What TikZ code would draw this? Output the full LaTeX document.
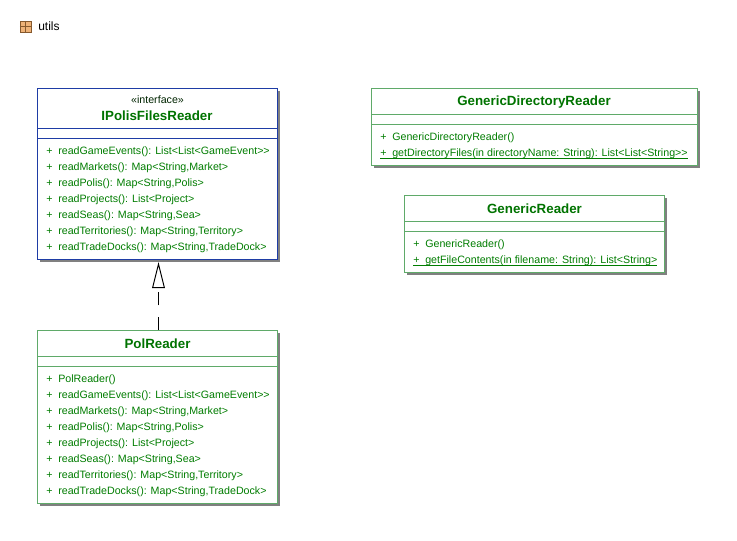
\documentclass[tikz,border=0pt]{standalone}
\usepackage{fontspec}
\setmainfont{Liberation Sans}[Ligatures=TeXOff]
\usetikzlibrary{arrows.meta,calc,shadows}
\definecolor{textgreen}{RGB}{0,125,0}
\definecolor{titlegreen}{RGB}{0,115,0}
\definecolor{classline}{RGB}{95,170,105}
\definecolor{ifaceline}{RGB}{30,60,165}
\newcommand{\pub}{\makebox[9pt][l]{+}}
\tikzset{
classbox/.style={draw=classline,fill=white,line width=0.75pt,inner sep=0pt,copy shadow={shadow xshift=1.6pt,shadow yshift=-1.6pt,draw=none,fill=black!50}},
ifacebox/.style={classbox,draw=ifaceline},
member/.style={anchor=base west,inner sep=0pt,text=textgreen,font=\fontsize{8}{10}\selectfont},
title/.style={inner sep=0pt,text=titlegreen,font=\fontsize{10}{12}\selectfont\bfseries}
}
\begin{document}
\begin{tikzpicture}[x=0.75pt,y=-0.75pt]
\useasboundingbox (0,0) rectangle (737,540);
% package label
\node (pkgicon) at (25.5,26.5) [draw=brown!70!black,fill=orange!55!brown!60,line width=0.5pt,minimum size=8pt,inner sep=0pt] {};
\draw[brown!70!black,line width=0.5pt] (pkgicon.north) -- (pkgicon.south);
\draw[brown!70!black,line width=0.5pt] (pkgicon.west) -- (pkgicon.east);
\node (pkg) at (38,26) [anchor=west,inner sep=0pt,font=\fontsize{9}{11}\selectfont] {utils};
% boxes
\node (IPolis) at (157.5,174) [ifacebox,minimum width=180pt,minimum height=128.25pt] {};
\node (PolReader) at (157.5,417) [classbox,minimum width=180pt,minimum height=129.75pt] {};
\node (GenDir) at (534.5,127) [classbox,minimum width=244.5pt,minimum height=57.75pt] {};
\node (GenRead) at (534.5,234) [classbox,minimum width=195pt,minimum height=57.75pt] {};
% compartments
\draw[ifaceline,line width=0.75pt] ($(IPolis.north west)+(0,40.5)$) -- ($(IPolis.north east)+(0,40.5)$);
\draw[ifaceline,line width=0.75pt] ($(IPolis.north west)+(0,50.5)$) -- ($(IPolis.north east)+(0,50.5)$);
\draw[classline,line width=0.75pt] ($(PolReader.north west)+(0,26.5)$) -- ($(PolReader.north east)+(0,26.5)$);
\draw[classline,line width=0.75pt] ($(PolReader.north west)+(0,36.5)$) -- ($(PolReader.north east)+(0,36.5)$);
\draw[classline,line width=0.75pt] ($(GenDir.north west)+(0,26.5)$) -- ($(GenDir.north east)+(0,26.5)$);
\draw[classline,line width=0.75pt] ($(GenDir.north west)+(0,36.5)$) -- ($(GenDir.north east)+(0,36.5)$);
\draw[classline,line width=0.75pt] ($(GenRead.north west)+(0,26.5)$) -- ($(GenRead.north east)+(0,26.5)$);
\draw[classline,line width=0.75pt] ($(GenRead.north west)+(0,36.5)$) -- ($(GenRead.north east)+(0,36.5)$);
% titles
\node (stereo) at (157.5,100) [inner sep=0pt,text=black!70!textgreen,font=\fontsize{8}{10}\selectfont] {«interface»};
\node (IPolisT) at (157,115.5) [title] {IPolisFilesReader};
\node (PolReaderT) at (157.5,343.5) [title] {PolReader};
\node (GenDirT) at (534,102.5) [title] {GenericDirectoryReader};
\node (GenReadT) at (534.5,208.5) [title] {GenericReader};
% IPolisFilesReader members
\node (a1) at (46,154) [member] {\pub readGameEvents(): List<List<GameEvent>>};
\node (a2) at (46,170) [member] {\pub readMarkets(): Map<String,Market>};
\node (a3) at (46,186) [member] {\pub readPolis(): Map<String,Polis>};
\node (a4) at (46,202) [member] {\pub readProjects(): List<Project>};
\node (a5) at (46,218) [member] {\pub readSeas(): Map<String,Sea>};
\node (a6) at (46,234) [member] {\pub readTerritories(): Map<String,Territory>};
\node (a7) at (46,250) [member] {\pub readTradeDocks(): Map<String,TradeDock>};
% PolReader members
\node (b0) at (46,382) [member] {\pub PolReader()};
\node (b1) at (46,398) [member] {\pub readGameEvents(): List<List<GameEvent>>};
\node (b2) at (46,414) [member] {\pub readMarkets(): Map<String,Market>};
\node (b3) at (46,430) [member] {\pub readPolis(): Map<String,Polis>};
\node (b4) at (46,446) [member] {\pub readProjects(): List<Project>};
\node (b5) at (46,462) [member] {\pub readSeas(): Map<String,Sea>};
\node (b6) at (46,478) [member] {\pub readTerritories(): Map<String,Territory>};
\node (b7) at (46,494) [member] {\pub readTradeDocks(): Map<String,TradeDock>};
% static members are underlined
\node (c1) at (380,140) [member] {\pub GenericDirectoryReader()};
\node (c2) at (380,156) [member] {\underline{\smash{\pub getDirectoryFiles(in directoryName: String): List<List<String>>}}};
\node (d1) at (413,247) [member] {\pub GenericReader()};
\node (d2) at (413,263) [member] {\underline{\smash{\pub getFileContents(in filename: String): List<String>}}};
% realization
\draw[dash pattern=on 9.75pt off 8.75pt,line width=0.75pt,-{Triangle[open,length=19.5pt,width=9.5pt,line width=0.75pt]},shorten >=1.5pt] ([xshift=0.75pt]PolReader.north) -- ([xshift=0.75pt]IPolis.south);
\end{tikzpicture}
\end{document}
